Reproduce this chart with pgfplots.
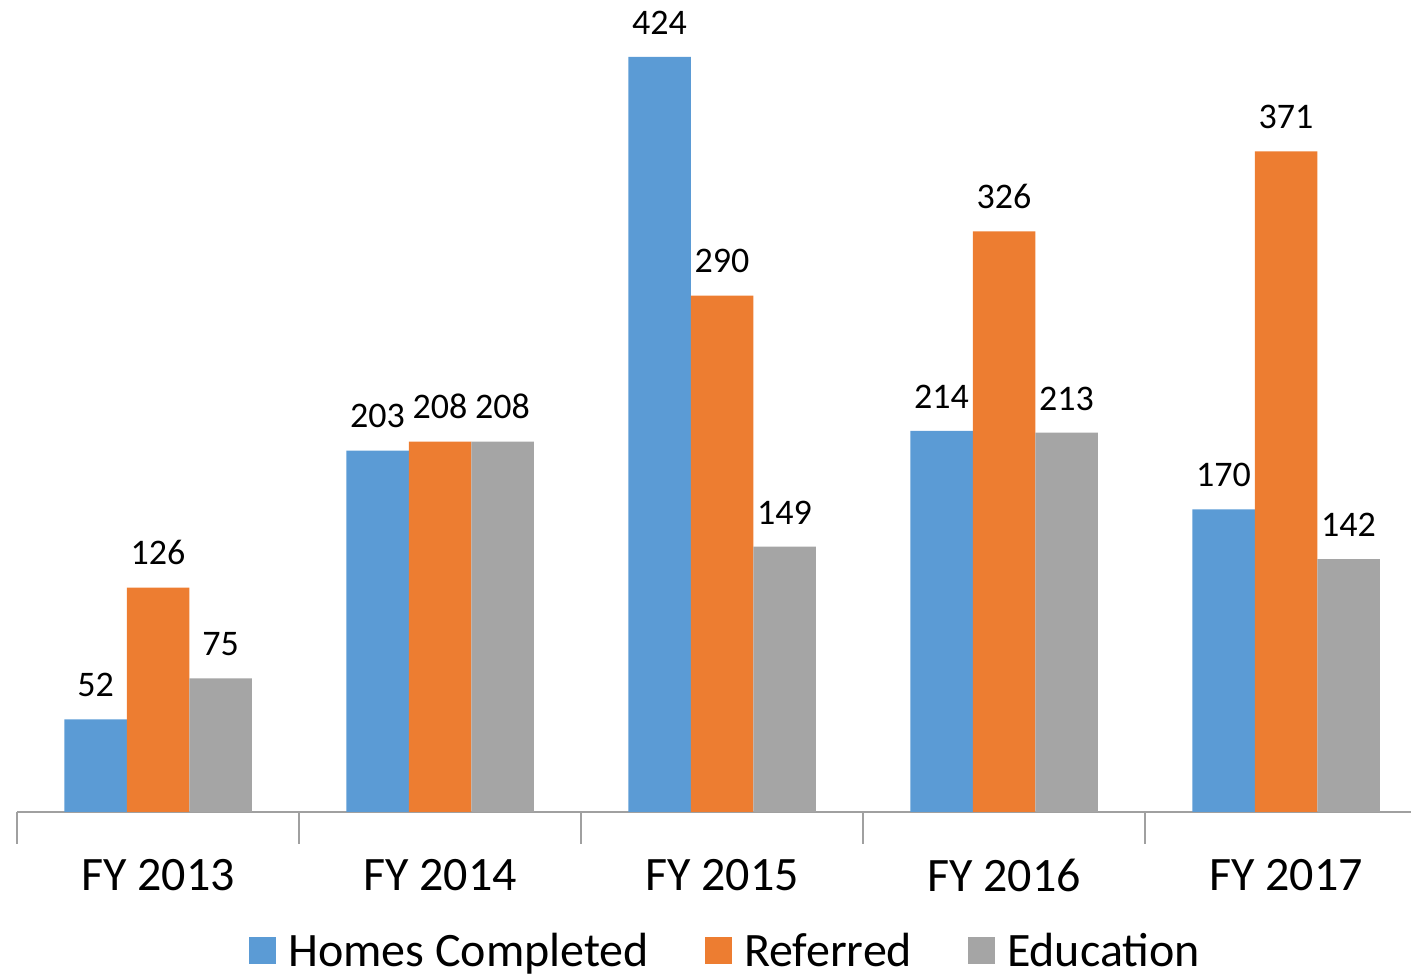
\documentclass[border=0pt]{standalone}
\usepackage{pgfplots}
\pgfplotsset{compat=1.18}
\usepackage{fontspec}
\setmainfont{Carlito}
\definecolor{cblue}{RGB}{91,155,213}
\definecolor{corange}{RGB}{237,125,49}
\definecolor{cgray}{RGB}{165,165,165}
\definecolor{caxis}{RGB}{160,160,160}
\begin{document}
\begin{tikzpicture}
\begin{axis}[
  scale only axis,
  width=697pt, height=406pt,
  xmin=-0.5, xmax=4.443, ymin=0, ymax=456,
  axis x line=bottom, hide y axis,
  axis line style={caxis, line width=0.8pt, -},
  ybar=0pt, bar width=31.25pt,
  xtick={0,1,2,3,4},
  xticklabels={FY 2013,FY 2014,FY 2015,FY 2016,FY 2017},
  major tick length=0pt,
  xticklabel style={font=\fontsize{24}{29}\selectfont, yshift=-20pt},
  extra x ticks={-0.5,0.5,1.5,2.5,3.5},
  extra x tick labels={},
  extra x tick style={major tick length=16pt, tick style={caxis, line width=0.8pt}, tick align=outside},
  /pgf/number format/assume math mode=true,
  nodes near coords,
  every node near coord/.append style={font=\fontsize{18}{21}\selectfont, black, inner sep=5pt, yshift=6pt},
  clip=false,
  legend columns=3,
  legend style={draw=none, at={(0.509,-0.171)}, anchor=center,
    font=\fontsize{24}{28}\selectfont,
    /tikz/every odd column/.append style={column sep=4pt},
    /tikz/every even column/.append style={column sep=26pt}},
  legend image code/.code={\fill[#1] (0pt,-6.75pt) rectangle (13.5pt,6.75pt);},
]
\addplot[fill=cblue, draw=none] coordinates {(0,52) (1,203) (2,424) (3,214) (4,170)};
\addplot[fill=corange, draw=none] coordinates {(0,126) (1,208) (2,290) (3,326) (4,371)};
\addplot[fill=cgray, draw=none] coordinates {(0,75) (1,208) (2,149) (3,213) (4,142)};
\legend{Homes Completed, Referred, Education}
\end{axis}
\pgfresetboundingbox
\path (-8.5pt,-82.5pt) rectangle (697pt,406pt);
\end{tikzpicture}
\end{document}
